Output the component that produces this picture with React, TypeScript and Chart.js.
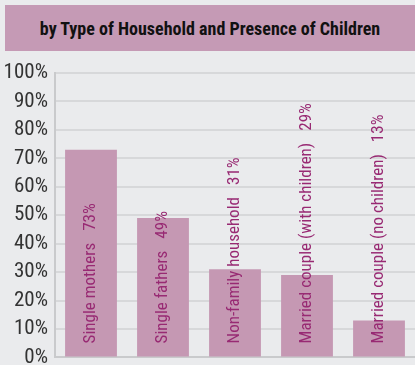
import React, { useEffect, useRef } from "react";
import { Chart, registerables } from "chart.js";

Chart.register(...registerables);

const categories = [
  "Single mothers",
  "Single fathers",
  "Non-family household",
  "Married couple (with children)",
  "Married couple (no children)",
];
const values = [73, 49, 31, 29, 13];
const yTicks = [0, 10, 20, 30, 40, 50, 60, 70, 80, 90, 100];
const titleText = "by Type of Household and Presence of Children";

const FONT = "'Roboto Condensed', 'DejaVu Sans Condensed', sans-serif";

const barLabels = {
  id: "barLabels",
  afterDatasetsDraw(chart: any) {
    const ctx = chart.ctx;
    const meta = chart.getDatasetMeta(0);
    const bottom = chart.chartArea.bottom;
    ctx.save();
    ctx.fillStyle = "#982a73";
    ctx.font = `17px ${FONT}`;
    ctx.textAlign = "left";
    ctx.textBaseline = "middle";
    meta.data.forEach((bar: any, i: number) => {
      ctx.save();
      ctx.translate(bar.x, bottom - 14);
      ctx.rotate(-Math.PI / 2);
      const name = categories[i];
      ctx.fillText(name, 0, 0);
      const w = ctx.measureText(name).width;
      ctx.fillText(`${values[i]}%`, w + 12, 0);
      ctx.restore();
    });
    ctx.restore();
  },
};

export default function App() {
  const ref = useRef<HTMLCanvasElement>(null);
  useEffect(() => {
    if (!ref.current) return;
    const chart = new Chart(ref.current, {
      type: "bar",
      data: {
        labels: categories,
        datasets: [
          {
            data: values,
            backgroundColor: "#c598b3",
            barPercentage: 0.72,
            categoryPercentage: 1,
          },
        ],
      },
      options: {
        animation: false,
        responsive: false,
        maintainAspectRatio: false,
        layout: { padding: { top: 73, right: 0, bottom: 0, left: 0 } },
        plugins: { legend: { display: false }, tooltip: { enabled: false } },
        scales: {
          x: {
            grid: { display: false },
            ticks: { display: false },
            border: { display: true, color: "#c9cacc", width: 2 },
          },
          y: {
            min: 0,
            max: 100,
            afterFit(scale: any) {
              scale.width = 55;
            },
            afterBuildTicks(scale: any) {
              scale.ticks = yTicks.map((v) => ({ value: v }));
            },
            grid: { color: "#d7d8da", lineWidth: 2, drawTicks: false },
            border: { display: true, color: "#c9cacc", width: 2 },
            ticks: {
              padding: 7,
              color: "#333333",
              font: { family: FONT, size: 21 },
              callback: (v: any) => `${v}%`,
            },
          },
        },
      },
      plugins: [barLabels],
    });
    return () => chart.destroy();
  }, []);

  return (
    <div
      style={{
        position: "fixed",
        left: 0,
        top: 0,
        width: 415,
        height: 365,
        background: "#eaebed",
        overflow: "hidden",
      }}
    >
      <div
        style={{
          position: "absolute",
          left: 5,
          top: 5,
          width: 410,
          height: 46,
          background: "#c59ab5",
          display: "flex",
          alignItems: "center",
          justifyContent: "center",
          fontFamily: FONT,
          fontWeight: "bold",
          fontSize: 18,
          color: "#111",
          whiteSpace: "nowrap",
        }}
      >
        {titleText}
      </div>
      <canvas
        ref={ref}
        width={415}
        height={377}
        style={{ position: "absolute", left: 0, top: 0, width: 415, height: 377 }}
      />
    </div>
  );
}
